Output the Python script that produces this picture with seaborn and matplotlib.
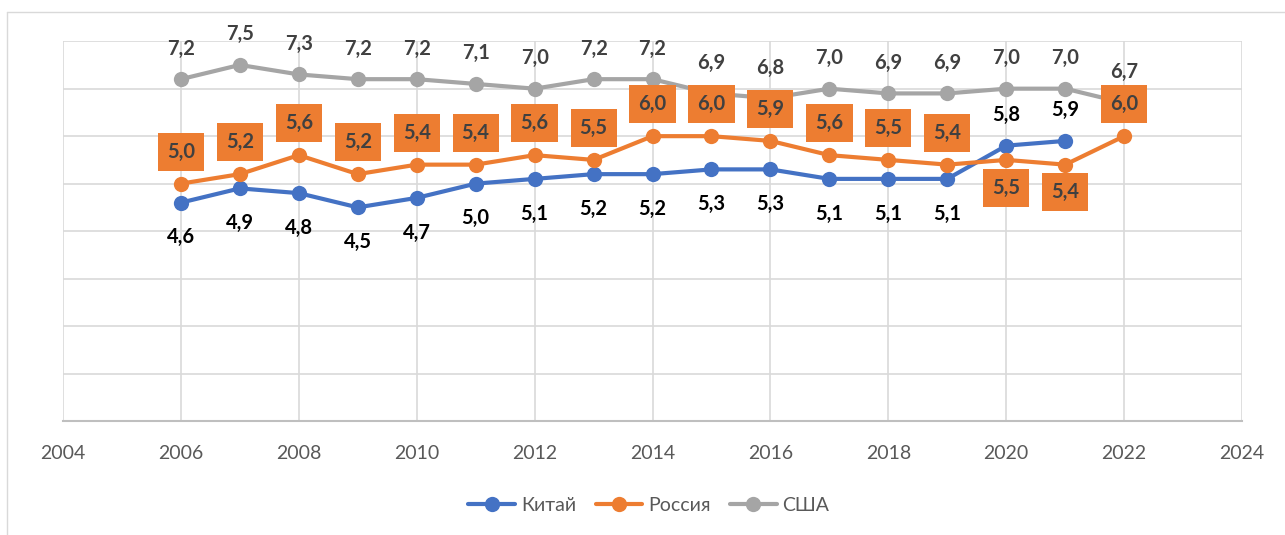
import pandas as pd
import matplotlib.pyplot as plt
from matplotlib.lines import Line2D
import seaborn as sns

# data
years = list(range(2006, 2023))
china = [4.6, 4.9, 4.8, 4.5, 4.7, 5.0, 5.1, 5.2, 5.2, 5.3, 5.3, 5.1, 5.1, 5.1, 5.8, 5.9, None]
russia = [5.0, 5.2, 5.6, 5.2, 5.4, 5.4, 5.6, 5.5, 6.0, 6.0, 5.9, 5.6, 5.5, 5.4, 5.5, 5.4, 6.0]
usa = [7.2, 7.5, 7.3, 7.2, 7.2, 7.1, 7.0, 7.2, 7.2, 6.9, 6.8, 7.0, 6.9, 6.9, 7.0, 7.0, 6.7]
series_names = ["Китай", "Россия", "США"]
colors = ["#4472C4", "#ED7D31", "#A5A5A5"]
x_ticks = list(range(2004, 2025, 2))

df = pd.DataFrame({"year": years, "Китай": china, "Россия": russia, "США": usa})
long_df = df.melt(id_vars="year", var_name="country", value_name="value").dropna()

sns.set_style("white")
plt.rcParams["font.family"] = ["Lato", "DejaVu Sans"]

fig = plt.figure(figsize=(12.85, 5.35), dpi=100)
ax = fig.add_axes([0.049, 0.213, 0.9176, 0.710])

sns.lineplot(data=long_df, x="year", y="value", hue="country", hue_order=series_names,
             palette=colors, marker="o", markersize=11, markeredgewidth=0,
             linewidth=3, ax=ax, legend=False)

ax.set_xlim(2004, 2024)
ax.set_ylim(0, 8)
ax.set_xticks(x_ticks)
ax.set_yticks(range(0, 9))
ax.set_yticklabels([])
ax.tick_params(axis="y", length=0)
ax.tick_params(axis="x", length=0, pad=17, labelsize=14, labelcolor="#595959")
ax.grid(True, color="#D9D9D9", linewidth=1.2)
ax.set_xlabel("")
ax.set_ylabel("")
for side in ["top", "right", "left"]:
    ax.spines[side].set_visible(False)
ax.spines["bottom"].set_color("#BFBFBF")
ax.spines["bottom"].set_linewidth(1.5)

fmt = lambda v: f"{v:.1f}".replace(".", ",")

# labels: USA above, China below (last two above)
for yr, v in zip(years, usa):
    ax.annotate(fmt(v), (yr, v), xytext=(0, 22), textcoords="offset points",
                ha="center", va="center", fontsize=14.5, fontweight="bold", color="#404040")
for yr, v in zip(years, china):
    if v is None:
        continue
    dy = 22 if yr >= 2020 else -25
    ax.annotate(fmt(v), (yr, v), xytext=(0, dy), textcoords="offset points",
                ha="center", va="center", fontsize=14.5, fontweight="bold", color="black")
for yr, v in zip(years, russia):
    dy = -20 if yr in (2020, 2021) else 23
    ax.annotate(fmt(v), (yr, v), xytext=(0, dy), textcoords="offset points",
                ha="center", va="center", fontsize=14.5, fontweight="bold", color="#404040",
                bbox=dict(boxstyle="square,pad=0.45", facecolor="#ED7D31", edgecolor="none"))

handles = [Line2D([], [], color=c, linewidth=3, marker="o", markersize=11, markeredgewidth=0)
           for c in colors]
fig.legend(handles, series_names, loc="center", bbox_to_anchor=(0.505, 0.055), ncol=3,
           frameon=False, fontsize=14, labelcolor="#595959", handlelength=2.4,
           columnspacing=1.0, handletextpad=0.3)

# outer chart frame
fx, fy = 7 / 1285, 1 - 12 / 535
fig.add_artist(Line2D([fx, fx], [0, fy], transform=fig.transFigure, color="#D9D9D9", linewidth=1))
fig.add_artist(Line2D([fx, 1], [fy, fy], transform=fig.transFigure, color="#D9D9D9", linewidth=1))

fig.savefig("out.png", dpi=100)
